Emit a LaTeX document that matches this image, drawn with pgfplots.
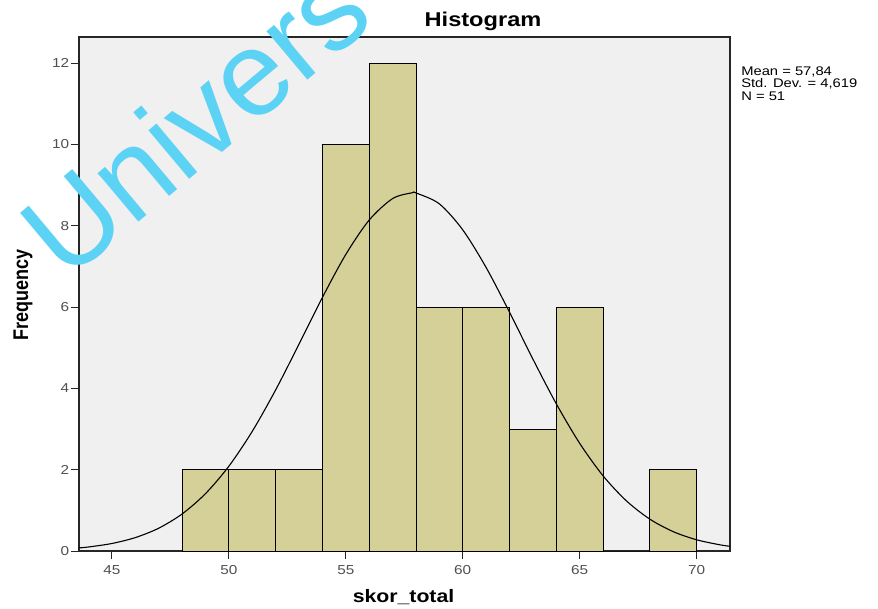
\documentclass[border=0pt]{standalone}
\usepackage{pgfplots}
\pgfplotsset{compat=1.18}
\usepackage{fontspec}
\setmainfont{Liberation Sans}
\definecolor{barfill}{RGB}{212,208,152}
\definecolor{plotbg}{RGB}{240,240,240}
\definecolor{wmark}{RGB}{92,210,245}
\definecolor{ticktext}{RGB}{80,80,80}
\begin{document}
\begin{tikzpicture}[x=1pt,y=1pt]
\useasboundingbox (0,0) rectangle (878,608);
\begin{axis}[
  at={(79pt,57pt)}, anchor=south west,
  scale only axis, width=651pt, height=514pt,
  xmin=43.59, xmax=71.43, ymin=0, ymax=12.64,
  axis background/.style={fill=plotbg},
  axis line style={black!85, line width=1.2pt},
  xtick={45,50,55,60,65,70}, ytick={0,2,4,6,8,10,12},
  xtick pos=bottom, ytick pos=left,
  tick align=outside, major tick length=8pt,
  tick style={black!85, line width=1pt},
  /pgf/number format/assume math mode=true,
  tick label style={font=\fontsize{13}{13}\selectfont, text=ticktext, xscale=1.18},
  xticklabel style={yshift=-3pt},
  yticklabel style={xshift=2pt},
  xlabel={skor\_total}, ylabel={Frequency},
  xlabel style={font=\bfseries\fontsize{18}{18}\selectfont, xscale=1.18, at={(axis description cs:0.4985,-0.0895)}, anchor=center},
  ylabel style={font=\bfseries\fontsize{18}{18}\selectfont, yscale=1.18, at={(axis description cs:-0.086,0.498)}, anchor=center, rotate=0},
  title={Histogram},
  every axis title/.style={font=\bfseries\fontsize{20}{20}\selectfont, xscale=1.18, at={(axis description cs:0.6206,1.031)}, anchor=center},
  clip=false,
]
\addplot[ybar interval, fill=barfill, draw=black, line width=0.9pt] coordinates {
(48,2) (50,2) (52,2) (54,10) (56,12) (58,6) (60,6) (62,3) (64,6) (66,0) (68,2) (70,2)
};
\addplot[smooth, black, line width=1.1pt, no marks] coordinates {
(43.59,0.076) (44,0.099) (45,0.185) (46,0.330) (47,0.561) (48,0.911) (49,1.411) (50,2.086)
(51,2.943) (52,3.962) (53,5.088) (54,6.236) (55,7.293) (56,8.138) (57,8.666) (57.84,8.81)
(58,8.805) (59,8.537) (60,7.898) (61,6.972) (62,5.873) (63,4.720) (64,3.621) (65,2.649)
(66,1.850) (67,1.233) (68,0.784) (69,0.476) (70,0.276) (71,0.152) (71.43,0.116)
};
\node[anchor=north west, align=left, font=\fontsize{12.5}{12.5}\selectfont, xscale=1.18, inner sep=0pt]
  at (axis description cs:1.017,0.943) {Mean = 57,84\\Std. Dev. = 4,619\\N = 51};
\end{axis}
\node[anchor=base west, rotate=40, text=wmark, font=\fontsize{120}{120}\selectfont, inner sep=0pt]
  at (66,325) {Univers};
\end{tikzpicture}
\end{document}
